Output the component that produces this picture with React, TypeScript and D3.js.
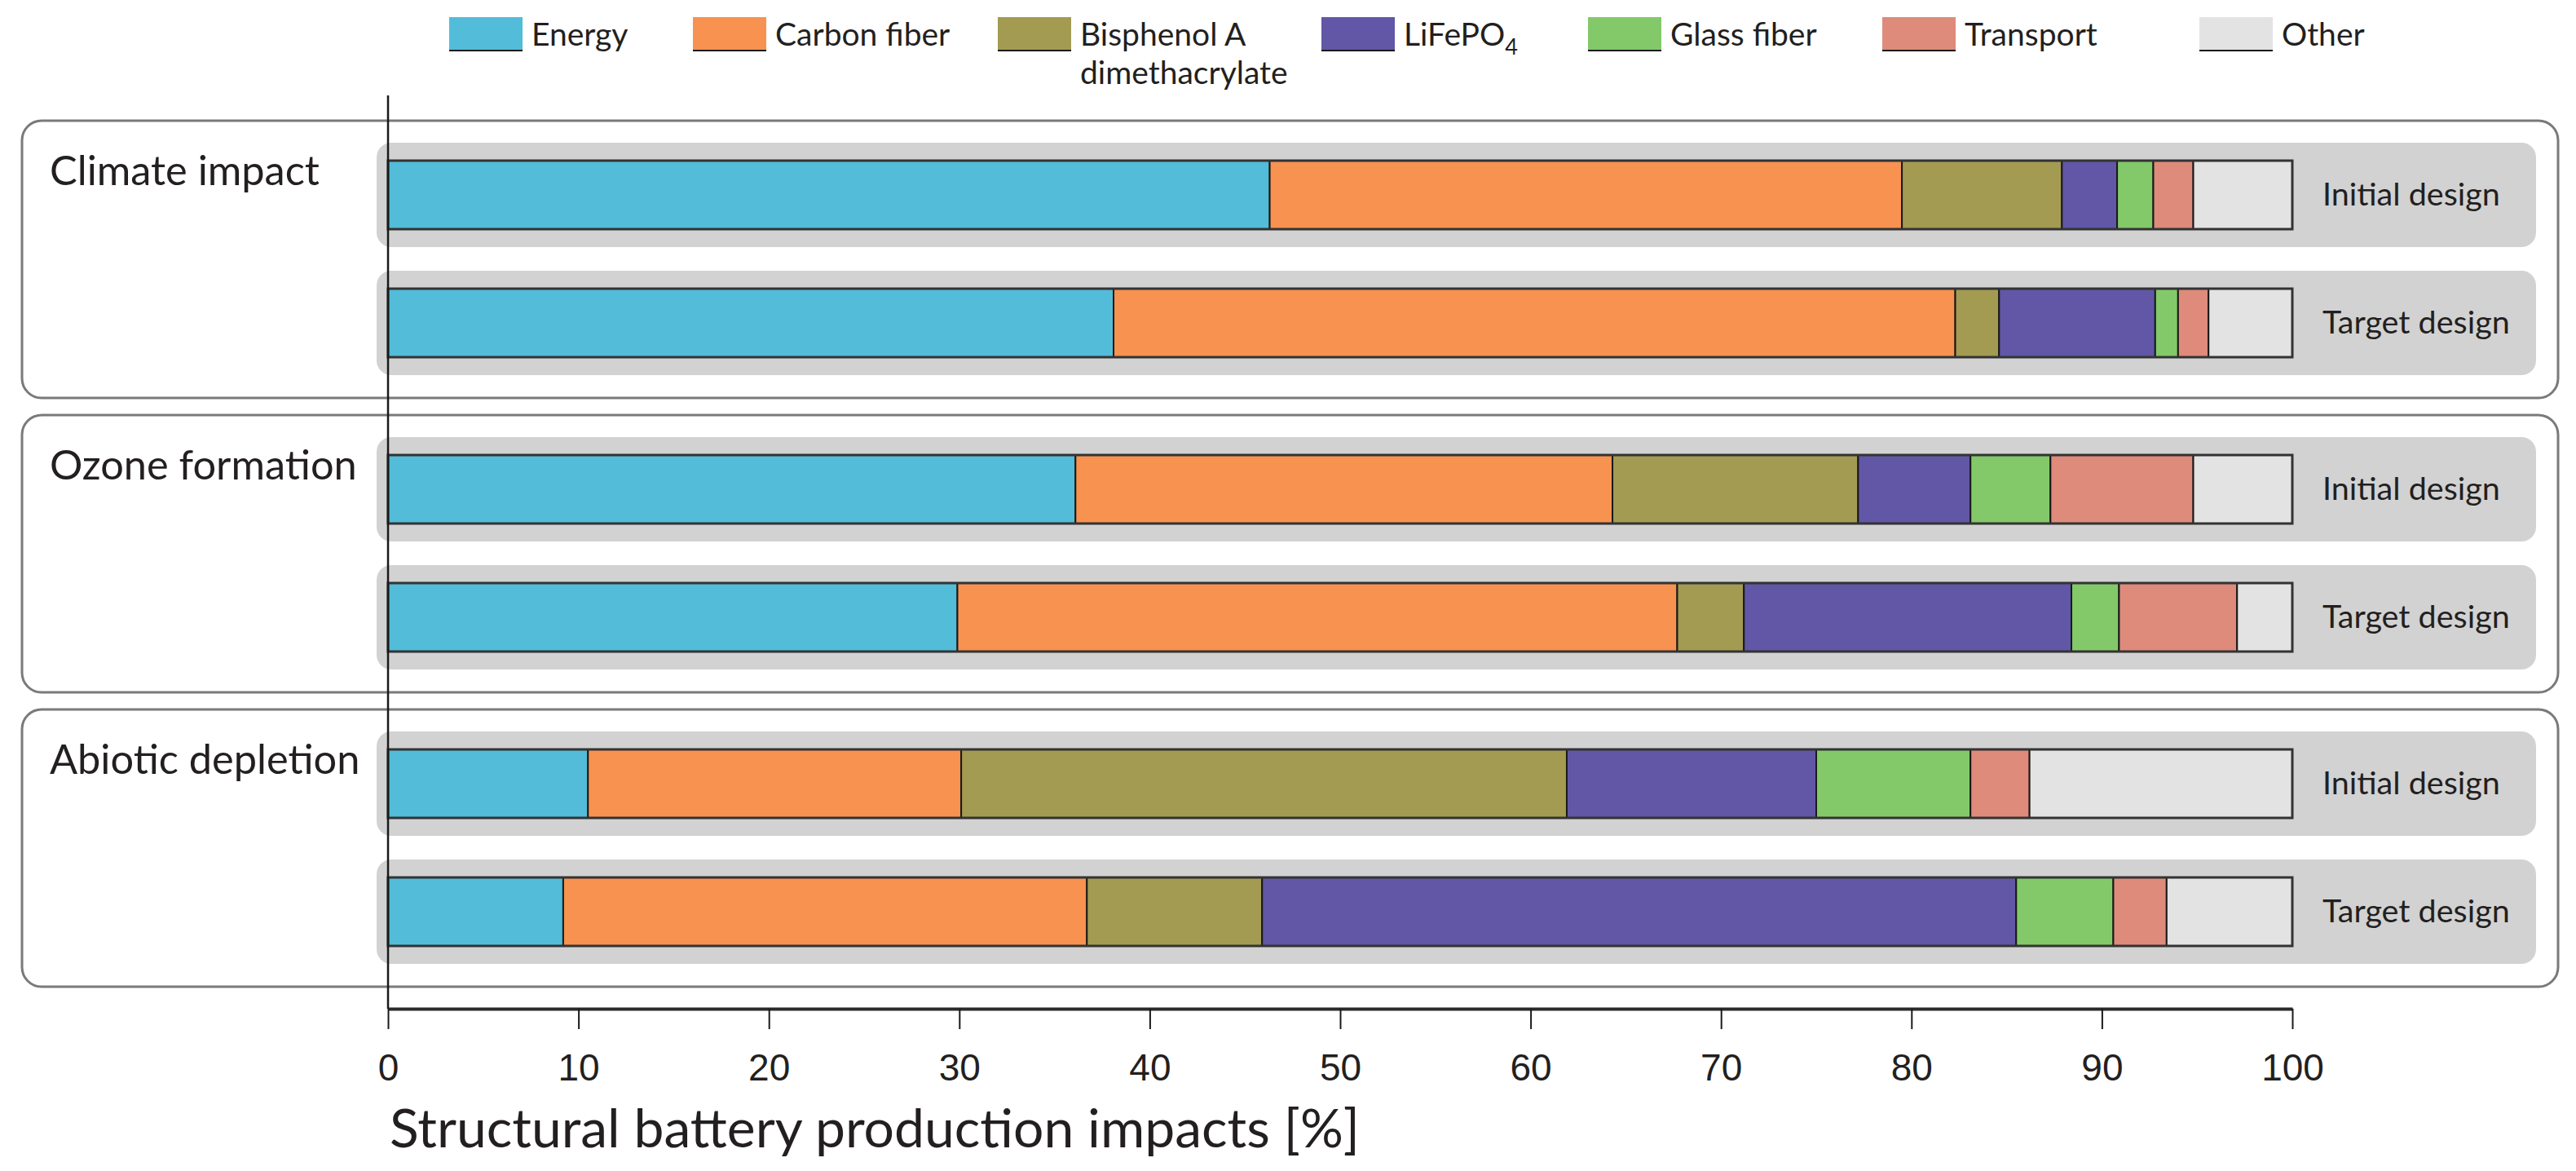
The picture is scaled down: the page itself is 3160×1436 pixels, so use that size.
import * as d3 from "d3";
import { useEffect, useRef } from "react";

const categories = [
  "Energy",
  "Carbon fiber",
  "Bisphenol A dimethacrylate",
  "LiFePO4",
  "Glass fiber",
  "Transport",
  "Other",
];
const colors = ["#52bcd9", "#f89250", "#a39b51", "#6157a6", "#83c96a", "#de8b7b", "#e3e3e3"];

const impacts = ["Climate impact", "Ozone formation", "Abiotic depletion"];
const designs = ["Initial design", "Target design"];

// shares per category, same order as `categories`
const climateInitial = [46.3, 33.2, 8.4, 2.9, 1.9, 2.1, 5.2];
const climateTarget = [38.1, 44.2, 2.3, 8.2, 1.2, 1.6, 4.4];
const ozoneInitial = [36.1, 28.2, 12.9, 5.9, 4.2, 7.5, 5.2];
const ozoneTarget = [29.9, 37.8, 3.5, 17.2, 2.5, 6.2, 2.9];
const abioticInitial = [10.5, 19.6, 31.8, 13.1, 8.1, 3.1, 13.8];
const abioticTarget = [9.2, 27.5, 9.2, 39.6, 5.1, 2.8, 6.6];

const xTicks = [0, 10, 20, 30, 40, 50, 60, 70, 80, 90, 100];
const xLabel = "Structural battery production impacts [%]";

// legend box left edges (hand placed in the original)
const legendX = [551, 850, 1224, 1621, 1948, 2309, 2698];

const W = 3160;
const H = 1436;
const TEXT_FONT = "Lato, 'Open Sans', sans-serif";
const NUM_FONT = "'Liberation Sans', Arial, sans-serif";

export default function App() {
  const svgRef = useRef<SVGSVGElement | null>(null);

  useEffect(() => {
    if (!svgRef.current) return;
    const svg = d3.select(svgRef.current);
    svg.selectAll("*").remove();

    const series = [
      [climateInitial, climateTarget],
      [ozoneInitial, ozoneTarget],
      [abioticInitial, abioticTarget],
    ];
    const rows: any[] = [];
    impacts.forEach((imp, i) =>
      designs.forEach((des, j) => {
        const r: any = { impact: imp, design: des };
        categories.forEach((c, k) => (r[c] = series[i][j][k]));
        rows.push(r);
      })
    );
    const stacked = d3.stack<any>().keys(categories)(rows);

    const x = d3.scaleLinear().domain([0, 100]).range([476, 2812]);
    const outer = d3
      .scaleBand<string>()
      .domain(impacts)
      .range([148, 1210])
      .paddingInner(21 / 361);
    const inner = d3.scaleBand<string>().domain(designs).range([12.5, 326.5]);
    const barH = 84;
    const bandH = 128;
    const rowY = (d: any) => (outer(d.impact) as number) + (inner(d.design) as number) + inner.bandwidth() / 2;

    // panels
    svg
      .append("g")
      .selectAll("rect")
      .data(impacts)
      .join("rect")
      .attr("x", 27)
      .attr("y", (d) => outer(d) as number)
      .attr("width", 3138 - 27)
      .attr("height", outer.bandwidth())
      .attr("rx", 24)
      .attr("fill", "#fff")
      .attr("stroke", "#7a7a7a")
      .attr("stroke-width", 3);

    svg
      .append("g")
      .selectAll("text")
      .data(impacts)
      .join("text")
      .attr("x", 61)
      .attr("y", (d) => (outer(d) as number) + 79)
      .attr("font-family", TEXT_FONT)
      .attr("font-size", 50.5)
      .attr("fill", "#231f20")
      .text((d) => d);

    // grey bands
    svg
      .append("g")
      .selectAll("rect")
      .data(rows)
      .join("rect")
      .attr("x", 462)
      .attr("y", (d) => rowY(d) - bandH / 2)
      .attr("width", 3111 - 462)
      .attr("height", bandH)
      .attr("rx", 18)
      .attr("fill", "#d2d2d2");

    // stacked segments
    svg
      .append("g")
      .selectAll("g")
      .data(stacked)
      .join("g")
      .attr("fill", (_, i) => colors[i])
      .selectAll("rect")
      .data((s) => s)
      .join("rect")
      .attr("x", (d) => x(d[0]))
      .attr("y", (d) => rowY(d.data) - barH / 2)
      .attr("width", (d) => x(d[1]) - x(d[0]))
      .attr("height", barH)
      .attr("stroke", "#1a1a1a")
      .attr("stroke-width", 2);

    // bar outlines
    svg
      .append("g")
      .selectAll("rect")
      .data(rows)
      .join("rect")
      .attr("x", x(0))
      .attr("y", (d) => rowY(d) - barH / 2)
      .attr("width", x(100) - x(0))
      .attr("height", barH)
      .attr("fill", "none")
      .attr("stroke", "#333")
      .attr("stroke-width", 3);

    // design labels
    svg
      .append("g")
      .selectAll("text")
      .data(rows)
      .join("text")
      .attr("x", 2849)
      .attr("y", (d) => rowY(d) + 13)
      .attr("font-family", TEXT_FONT)
      .attr("font-size", 39.5)
      .attr("fill", "#231f20")
      .text((d) => d.design);

    // vertical zero line
    svg
      .append("line")
      .attr("x1", x(0))
      .attr("x2", x(0))
      .attr("y1", 117)
      .attr("y2", 1237)
      .attr("stroke", "#1a1a1a")
      .attr("stroke-width", 2.5);

    // x axis
    const xAxis = d3.axisBottom(x).tickValues(xTicks).tickSize(25).tickSizeOuter(0).tickPadding(30);
    const ax = svg
      .append("g")
      .attr("transform", "translate(0,1237)")
      .call(xAxis as any);
    ax.select(".domain").attr("stroke", "#2a2a2a").attr("stroke-width", 4);
    ax.selectAll(".tick line").attr("stroke", "#1a1a1a").attr("stroke-width", 2);
    ax.selectAll(".tick text")
      .attr("font-family", NUM_FONT)
      .attr("font-size", 46)
      .attr("fill", "#231f20");

    svg
      .append("text")
      .attr("x", 478)
      .attr("y", 1407)
      .attr("font-family", TEXT_FONT)
      .attr("font-size", 66)
      .attr("fill", "#231f20")
      .text(xLabel);

    // legend
    const lg = svg
      .append("g")
      .selectAll("g")
      .data(categories)
      .join("g")
      .attr("transform", (_, i) => `translate(${legendX[i]},0)`);
    lg.append("rect")
      .attr("x", 0)
      .attr("y", 21)
      .attr("width", 90)
      .attr("height", 41)
      .attr("fill", (_, i) => colors[i]);
    lg.append("line")
      .attr("x1", 0)
      .attr("x2", 90)
      .attr("y1", 62)
      .attr("y2", 62)
      .attr("stroke", "#1a1a1a")
      .attr("stroke-width", 2);
    lg.each(function (d) {
      const t = d3
        .select(this)
        .append("text")
        .attr("x", 101)
        .attr("y", 56)
        .attr("font-family", TEXT_FONT)
        .attr("font-size", 39)
        .attr("fill", "#231f20");
      if (d === "LiFePO4") {
        t.append("tspan").text("LiFePO");
        t.append("tspan").attr("font-size", 27).attr("dy", 11).text("4");
      } else if (d === "Bisphenol A dimethacrylate") {
        t.append("tspan").attr("x", 101).text("Bisphenol A");
        t.append("tspan").attr("x", 101).attr("dy", 47).text("dimethacrylate");
      } else {
        t.text(d);
      }
    });
  }, []);

  return (
    <svg
      ref={svgRef}
      width={W}
      height={H}
      viewBox={`0 0 ${W} ${H}`}
      style={{ position: "absolute", left: 0, top: 0, background: "#fff" }}
    />
  );
}
